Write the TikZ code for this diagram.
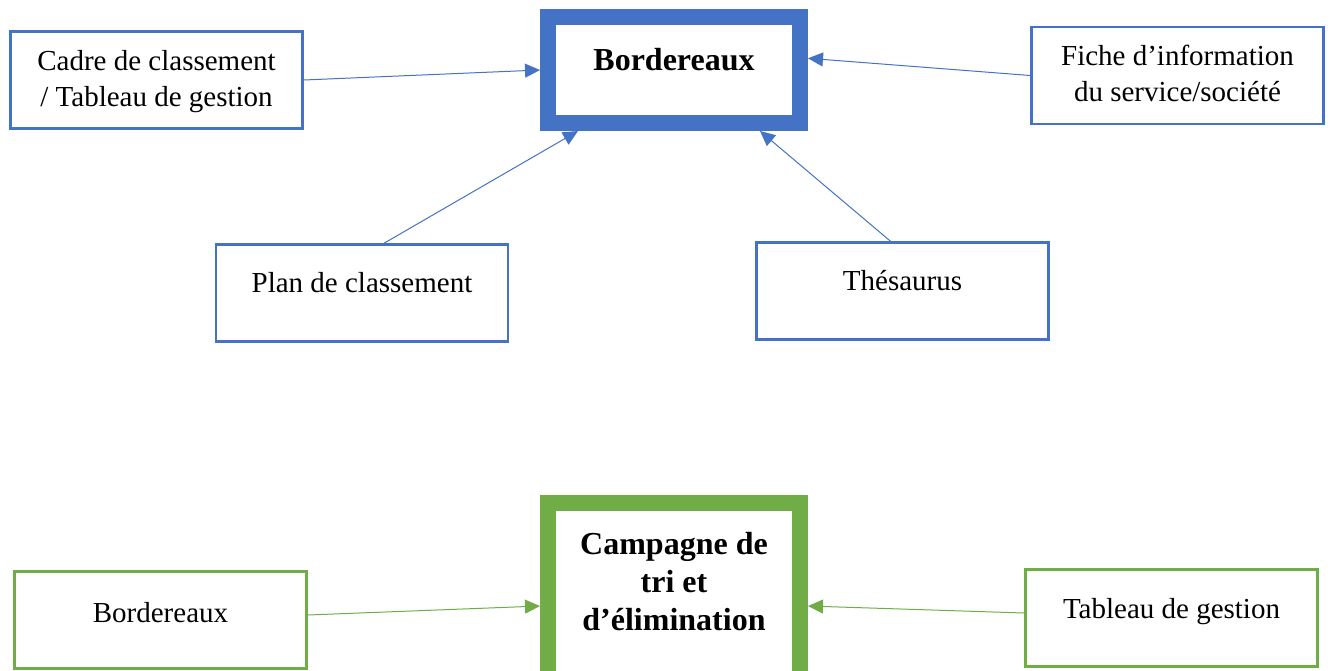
\documentclass[tikz,border=0pt]{standalone}
\usepackage{fontspec}
\setmainfont{Liberation Serif}
\usetikzlibrary{arrows.meta}

\definecolor{bleu}{HTML}{4472C4}
\definecolor{vert}{HTML}{70AD47}

\tikzset{
	boite/.style={draw=#1, line width=2.5pt, minimum width=292pt, minimum height=97pt, inner sep=0pt},
	cadre/.style={draw=#1, line width=16pt, minimum width=252pt, inner sep=0pt},
	texte/.style={align=center, font=\fontsize{29}{36}\selectfont},
	titre/.style={align=center, font=\fontsize{32}{38}\selectfont\bfseries},
	fleche/.style={draw=#1, line width=1pt, -{Triangle[length=15pt,width=14pt]}}
}

\begin{document}
\begin{tikzpicture}[x=1pt, y=-1pt]
	\useasboundingbox (0,0) rectangle (1332,670);

	% schema du haut
	\node[cadre=bleu, minimum height=106pt] (bord) at (674,70) {};
	\node[titre] at ([yshift=10pt]bord.center) {Bordereaux};

	\node[boite=bleu] (cadreclass) at (156.5,80) {};
	\node[texte] at ([yshift=-2pt]cadreclass.center) {Cadre de classement\\/ Tableau de gestion};

	\node[boite=bleu] (fiche) at (1177.5,75.5) {};
	\node[texte] at ([yshift=2pt]fiche.center) {Fiche d’information\\du service/société};

	\node[boite=bleu] (plan) at (362,293) {};
	\node[texte] at ([yshift=10pt]plan.center) {Plan de classement};

	\node[boite=bleu] (thes) at (902.5,291) {};
	\node[texte] at ([yshift=10pt]thes.center) {Thésaurus};

	\draw[fleche=bleu] (cadreclass.east) -- (bord.west);
	\draw[fleche=bleu] (fiche.west) -- (bord.5);
	\draw[fleche=bleu] ([xshift=22pt]plan.north) -- ([xshift=-96pt]bord.south);
	\draw[fleche=bleu] ([xshift=-12pt]thes.north) -- ([xshift=86pt]bord.south);

	% schema du bas
	\node[cadre=vert, minimum height=194pt] (camp) at (674,600) {};
	\node[titre] at ([yshift=18pt]camp.center) {Campagne de\\tri et\\d’élimination};

	\node[boite=vert] (bordv) at (160.5,620) {};
	\node[texte] at ([yshift=7pt]bordv.center) {Bordereaux};

	\node[boite=vert] (tableau) at (1171.5,618) {};
	\node[texte] at ([yshift=6pt]tableau.center) {Tableau de gestion};

	\draw[fleche=vert] ([yshift=5pt]bordv.east) -- ([yshift=-6pt]camp.west);
	\draw[fleche=vert] ([yshift=5pt]tableau.west) -- ([yshift=-6pt]camp.east);
\end{tikzpicture}
\end{document}
